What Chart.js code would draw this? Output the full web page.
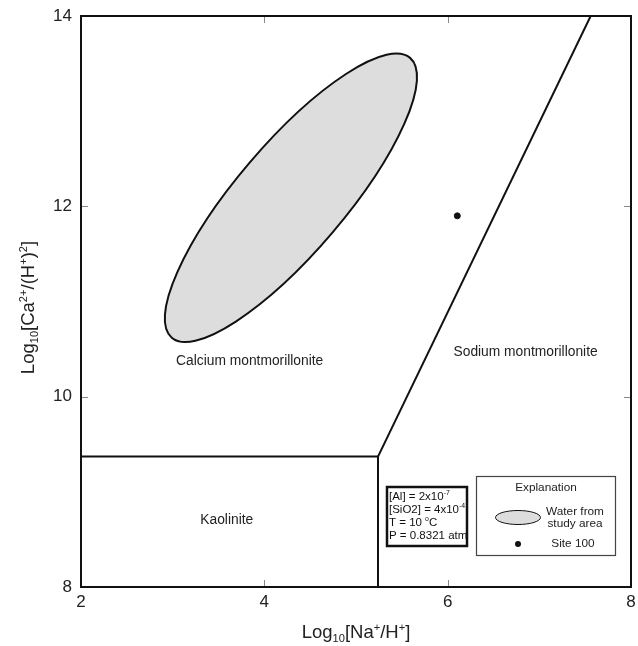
<!DOCTYPE html>
<html>
<head>
<meta charset="utf-8">
<script src="https://cdn.jsdelivr.net/npm/chart.js@4.4.1/dist/chart.umd.min.js"></script>
<style>
  html, body { margin: 0; padding: 0; background: #ffffff; }
  #wrap { width: 638px; height: 646px; }
</style>
</head>
<body>
<div id="wrap"><canvas id="c" width="638" height="646"></canvas></div>
<script>
// ---------- data ----------
const xTicks = [2, 4, 6, 8];
const yTicks = [8, 10, 12, 14];

// Kaolinite field boundary (horizontal then vertical)
const kaoliniteBoundaryX = [2, 5.24, 5.24];
const kaoliniteBoundaryY = [9.37, 9.37, 8];

// Calcium / sodium montmorillonite boundary
const montBoundaryX = [5.24, 7.56];
const montBoundaryY = [9.37, 14];

// Site 100 sample
const site100X = [6.105];
const site100Y = [11.90];

// Water from study area (ellipse: centre, end of major half-axis, end of minor half-axis)
const ellipseCenter = [4.29, 12.09];
const ellipseMajorEnd = [5.59, 13.56];
const ellipseMinorEnd = [3.84, 12.46];

// Field labels
const fieldNames = ["Calcium montmorillonite", "Sodium montmorillonite", "Kaolinite"];
const fieldLabelX = [3.84, 6.85, 3.59];
const fieldLabelY = [10.37, 10.47, 8.70];

// ---------- helpers ----------
const FONT = '"Liberation Sans", Arial, Helvetica, sans-serif';
function toPts(xs, ys) { return xs.map((x, i) => ({ x: x, y: ys[i] })); }

function richWidth(ctx, parts, size) {
  let w = 0;
  for (const p of parts) {
    const s = (p.sub || p.sup) ? size * 0.6 : size;
    ctx.font = s + 'px ' + FONT;
    w += ctx.measureText(p.t).width;
  }
  return w;
}
function drawRich(ctx, parts, x, y, size, align) {
  const w = richWidth(ctx, parts, size);
  let cx = align === 'center' ? x - w / 2 : x;
  ctx.textAlign = 'left';
  ctx.textBaseline = 'alphabetic';
  for (const p of parts) {
    const s = (p.sub || p.sup) ? size * 0.6 : size;
    ctx.font = s + 'px ' + FONT;
    let dy = 0;
    if (p.sub) dy = size * 0.22;
    if (p.sup) dy = -size * 0.38;
    ctx.fillText(p.t, cx, y + dy);
    cx += ctx.measureText(p.t).width;
  }
}

const xTitleParts = [{t:'Log'},{t:'10',sub:true},{t:'[Na'},{t:'+',sup:true},{t:'/H'},{t:'+',sup:true},{t:']'}];
const yTitleParts = [{t:'Log'},{t:'10',sub:true},{t:'[Ca'},{t:'2+',sup:true},{t:'/(H'},{t:'+',sup:true},{t:')'},{t:'2',sup:true},{t:']'}];

const infoLines = [
  [{t:'[Al] = 2x10'},{t:'-7',sup:true}],
  [{t:'[SiO2] = 4x10'},{t:'-4',sup:true}],
  [{t:'T = 10 '},{t:'o',sup:true},{t:'C'}],
  [{t:'P = 0.8321 atm'}]
];

const diagramPlugin = {
  id: 'diagram',
  beforeDatasetsDraw(chart) {
    const ctx = chart.ctx;
    const xs = chart.scales.x, ys = chart.scales.y;
    const c = { x: xs.getPixelForValue(ellipseCenter[0]), y: ys.getPixelForValue(ellipseCenter[1]) };
    const m = { x: xs.getPixelForValue(ellipseMajorEnd[0]), y: ys.getPixelForValue(ellipseMajorEnd[1]) };
    const n = { x: xs.getPixelForValue(ellipseMinorEnd[0]), y: ys.getPixelForValue(ellipseMinorEnd[1]) };
    const a = Math.hypot(m.x - c.x, m.y - c.y);
    const b = Math.hypot(n.x - c.x, n.y - c.y);
    const ang = Math.atan2(m.y - c.y, m.x - c.x);
    ctx.save();
    ctx.beginPath();
    ctx.ellipse(c.x, c.y, a, b, ang, 0, Math.PI * 2);
    ctx.fillStyle = '#dddddd';
    ctx.fill();
    ctx.lineWidth = 2;
    ctx.strokeStyle = '#111111';
    ctx.stroke();
    ctx.restore();
  },
  afterDraw(chart) {
    const ctx = chart.ctx;
    const xs = chart.scales.x, ys = chart.scales.y;
    const ca = chart.chartArea;
    ctx.save();
    // frame
    ctx.strokeStyle = '#111111';
    ctx.lineWidth = 2;
    ctx.strokeRect(ca.left, ca.top, ca.right - ca.left, ca.bottom - ca.top);
    // inward tick marks
    ctx.strokeStyle = '#888888';
    ctx.lineWidth = 1;
    ctx.beginPath();
    xTicks.slice(1, -1).forEach(v => {
      const px = Math.round(xs.getPixelForValue(v)) + 0.5;
      ctx.moveTo(px, ca.bottom - 1); ctx.lineTo(px, ca.bottom - 7);
      ctx.moveTo(px, ca.top + 1); ctx.lineTo(px, ca.top + 7);
    });
    yTicks.slice(1, -1).forEach(v => {
      const py = Math.round(ys.getPixelForValue(v)) + 0.5;
      ctx.moveTo(ca.left + 1, py); ctx.lineTo(ca.left + 7, py);
      ctx.moveTo(ca.right - 1, py); ctx.lineTo(ca.right - 7, py);
    });
    ctx.stroke();

    // field labels
    ctx.fillStyle = '#222222';
    ctx.font = '13.8px ' + FONT;
    ctx.textAlign = 'center';
    ctx.textBaseline = 'middle';
    fieldNames.forEach((t, i) => {
      ctx.fillText(t, xs.getPixelForValue(fieldLabelX[i]), ys.getPixelForValue(fieldLabelY[i]));
    });

    // axis titles
    ctx.fillStyle = '#222222';
    drawRich(ctx, xTitleParts, (ca.left + ca.right) / 2, 638, 18.5, 'center');
    ctx.save();
    ctx.translate(34, (ca.top + ca.bottom) / 2 + 6);
    ctx.rotate(-Math.PI / 2);
    drawRich(ctx, yTitleParts, 0, 0, 18.5, 'center');
    ctx.restore();

    // conditions box
    const ibL = 387, ibT = 487, ibW = 80, ibH = 59;
    ctx.strokeStyle = '#111111';
    ctx.lineWidth = 2.5;
    ctx.strokeRect(ibL, ibT, ibW, ibH);
    ctx.fillStyle = '#111111';
    const base = [499.5, 512.5, 525.5, 539];
    infoLines.forEach((parts, i) => drawRich(ctx, parts, ibL + 2, base[i], 11.5, 'left'));

    // explanation box
    const lbL = 476, lbT = 476, lbW = 139, lbH = 79;
    ctx.fillStyle = '#ffffff';
    ctx.fillRect(lbL, lbT, lbW, lbH);
    ctx.strokeStyle = '#444444';
    ctx.lineWidth = 1.2;
    ctx.strokeRect(lbL + 0.5, lbT + 0.5, lbW, lbH);
    ctx.fillStyle = '#222222';
    ctx.font = '11.8px ' + FONT;
    ctx.textAlign = 'center';
    ctx.textBaseline = 'middle';
    ctx.fillText('Explanation', lbL + 70, lbT + 12);
    ctx.fillText('Water from', 575, 512);
    ctx.fillText('study area', 575, 524);
    ctx.fillText('Site 100', 573, 544);
    ctx.beginPath();
    ctx.ellipse(518, 517.5, 22.5, 7, 0, 0, Math.PI * 2);
    ctx.fillStyle = '#dddddd';
    ctx.fill();
    ctx.strokeStyle = '#111111';
    ctx.lineWidth = 1;
    ctx.stroke();
    ctx.beginPath();
    ctx.arc(518, 544, 3, 0, Math.PI * 2);
    ctx.fillStyle = '#111111';
    ctx.fill();
    ctx.restore();
  }
};

new Chart(document.getElementById('c'), {
  type: 'scatter',
  data: {
    datasets: [
      {
        label: 'Kaolinite boundary',
        type: 'line',
        data: toPts(kaoliniteBoundaryX, kaoliniteBoundaryY),
        borderColor: '#111111',
        borderWidth: 2,
        pointRadius: 0,
        fill: false,
        tension: 0
      },
      {
        label: 'Montmorillonite boundary',
        type: 'line',
        data: toPts(montBoundaryX, montBoundaryY),
        borderColor: '#111111',
        borderWidth: 2,
        pointRadius: 0,
        fill: false,
        tension: 0
      },
      {
        label: 'Site 100',
        type: 'scatter',
        data: toPts(site100X, site100Y),
        backgroundColor: '#111111',
        borderColor: '#111111',
        pointRadius: 3,
        pointHoverRadius: 3
      }
    ]
  },
  options: {
    responsive: false,
    animation: false,
    devicePixelRatio: 1,
    layout: { padding: { left: 0, right: 7, top: 16, bottom: 0 } },
    plugins: { legend: { display: false }, tooltip: { enabled: false } },
    scales: {
      x: {
        type: 'linear',
        min: xTicks[0], max: xTicks[xTicks.length - 1],
        afterBuildTicks: s => { s.ticks = xTicks.map(v => ({ value: v })); },
        afterFit: s => { s.height = 59; },
        grid: { display: false, drawTicks: false },
        border: { display: false },
        ticks: { color: '#222222', font: { family: FONT, size: 17, lineHeight: 1.55 }, padding: 2 }
      },
      y: {
        type: 'linear',
        min: yTicks[0], max: yTicks[yTicks.length - 1],
        afterBuildTicks: s => { s.ticks = yTicks.map(v => ({ value: v })); },
        afterFit: s => { s.width = 81; },
        grid: { display: false, drawTicks: false },
        border: { display: false },
        ticks: { color: '#222222', font: { family: FONT, size: 17, lineHeight: 0.5 }, padding: 9 }
      }
    }
  },
  plugins: [diagramPlugin]
});
</script>
</body>
</html>
